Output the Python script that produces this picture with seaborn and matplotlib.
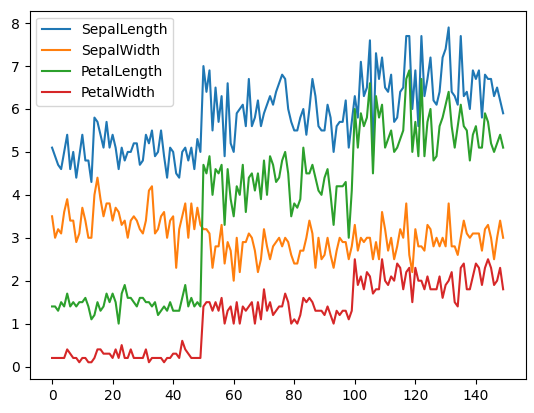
import numpy as np
import pandas as pd
import matplotlib
matplotlib.use("Agg")
import matplotlib.pyplot as plt
import seaborn as sns

sepal_length = [
    5.1,4.9,4.7,4.6,5.0,5.4,4.6,5.0,4.4,4.9,
    5.4,4.8,4.8,4.3,5.8,5.7,5.4,5.1,5.7,5.1,
    5.4,5.1,4.6,5.1,4.8,5.0,5.0,5.2,5.2,4.7,
    4.8,5.4,5.2,5.5,4.9,5.0,5.5,4.9,4.4,5.1,
    5.0,4.5,4.4,5.0,5.1,4.8,5.1,4.6,5.3,5.0,
    7.0,6.4,6.9,5.5,6.5,5.7,6.3,4.9,6.6,5.2,
    5.0,5.9,6.0,6.1,5.6,6.7,5.6,5.8,6.2,5.6,
    5.9,6.1,6.3,6.1,6.4,6.6,6.8,6.7,6.0,5.7,
    5.5,5.5,5.8,6.0,5.4,6.0,6.7,6.3,5.6,5.5,
    5.5,6.1,5.8,5.0,5.6,5.7,5.7,6.2,5.1,5.7,
    6.3,5.8,7.1,6.3,6.5,7.6,4.9,7.3,6.7,7.2,
    6.5,6.4,6.8,5.7,5.8,6.4,6.5,7.7,7.7,6.0,
    6.9,5.6,7.7,6.3,6.7,7.2,6.2,6.1,6.4,7.2,
    7.4,7.9,6.4,6.3,6.1,7.7,6.3,6.4,6.0,6.9,
    6.7,6.9,5.8,6.8,6.7,6.7,6.3,6.5,6.2,5.9,
]
sepal_width = [
    3.5,3.0,3.2,3.1,3.6,3.9,3.4,3.4,2.9,3.1,
    3.7,3.4,3.0,3.0,4.0,4.4,3.9,3.5,3.8,3.8,
    3.4,3.7,3.6,3.3,3.4,3.0,3.4,3.5,3.4,3.2,
    3.1,3.4,4.1,4.2,3.1,3.2,3.5,3.6,3.0,3.4,
    3.5,2.3,3.2,3.5,3.8,3.0,3.8,3.2,3.7,3.3,
    3.2,3.2,3.1,2.3,2.8,2.8,3.3,2.4,2.9,2.7,
    2.0,3.0,2.2,2.9,2.9,3.1,3.0,2.7,2.2,2.5,
    3.2,2.8,2.5,2.8,2.9,3.0,2.8,3.0,2.9,2.6,
    2.4,2.4,2.7,2.7,3.0,3.4,3.1,2.3,3.0,2.5,
    2.6,3.0,2.6,2.3,2.7,3.0,2.9,2.9,2.5,2.8,
    3.3,2.7,3.0,2.9,3.0,3.0,2.5,2.9,2.5,3.6,
    3.2,2.7,3.0,2.5,2.8,3.2,3.0,3.8,2.6,2.2,
    3.2,2.8,2.8,2.7,3.3,3.2,2.8,3.0,2.8,3.0,
    2.8,3.8,2.8,2.8,2.6,3.0,3.4,3.1,3.0,3.1,
    3.1,3.1,2.7,3.2,3.3,3.0,2.5,3.0,3.4,3.0,
]
petal_length = [
    1.4,1.4,1.3,1.5,1.4,1.7,1.4,1.5,1.4,1.5,
    1.5,1.6,1.4,1.1,1.2,1.5,1.3,1.4,1.7,1.5,
    1.7,1.5,1.0,1.7,1.9,1.6,1.6,1.5,1.4,1.6,
    1.6,1.5,1.5,1.4,1.5,1.2,1.3,1.4,1.3,1.5,
    1.3,1.3,1.3,1.6,1.9,1.4,1.6,1.4,1.5,1.4,
    4.7,4.5,4.9,4.0,4.6,4.5,4.7,3.3,4.6,3.9,
    3.5,4.2,4.0,4.7,3.6,4.4,4.5,4.1,4.5,3.9,
    4.8,4.0,4.9,4.7,4.3,4.4,4.8,5.0,4.5,3.5,
    3.8,3.7,3.9,5.1,4.5,4.5,4.7,4.4,4.1,4.0,
    4.4,4.6,4.0,3.3,4.2,4.2,4.2,4.3,3.0,4.1,
    6.0,5.1,5.9,5.6,5.8,6.6,4.5,6.3,5.8,6.1,
    5.1,5.3,5.5,5.0,5.1,5.3,5.5,6.7,6.9,5.0,
    5.7,4.9,6.7,4.9,5.7,6.0,4.8,4.9,5.6,5.8,
    6.1,6.4,5.6,5.1,5.6,6.1,5.6,5.5,4.8,5.4,
    5.6,5.1,5.1,5.9,5.7,5.2,5.0,5.2,5.4,5.1,
]
petal_width = [
    0.2,0.2,0.2,0.2,0.2,0.4,0.3,0.2,0.2,0.1,
    0.2,0.2,0.1,0.1,0.2,0.4,0.4,0.3,0.3,0.3,
    0.2,0.4,0.2,0.5,0.2,0.2,0.4,0.2,0.2,0.2,
    0.2,0.4,0.1,0.2,0.2,0.2,0.2,0.1,0.2,0.2,
    0.3,0.3,0.2,0.6,0.4,0.3,0.2,0.2,0.2,0.2,
    1.4,1.5,1.5,1.3,1.5,1.3,1.6,1.0,1.3,1.4,
    1.0,1.5,1.0,1.4,1.3,1.4,1.5,1.0,1.5,1.1,
    1.8,1.3,1.5,1.2,1.3,1.4,1.4,1.7,1.5,1.0,
    1.1,1.0,1.2,1.6,1.5,1.6,1.5,1.3,1.3,1.3,
    1.2,1.4,1.2,1.0,1.3,1.2,1.3,1.3,1.1,1.3,
    2.5,1.9,2.1,1.8,2.2,2.1,1.7,1.8,1.8,2.5,
    2.0,1.9,2.1,2.0,2.4,2.3,1.8,2.2,2.3,1.5,
    2.3,2.0,2.0,1.8,2.1,1.8,1.8,1.8,2.1,1.6,
    1.9,2.0,2.2,1.5,1.4,2.3,2.4,1.8,1.8,2.1,
    2.4,2.3,1.9,2.3,2.5,2.3,1.9,2.0,2.3,1.8,
]
series_names = ["SepalLength", "SepalWidth", "PetalLength", "PetalWidth"]

df = pd.DataFrame({
    "SepalLength": sepal_length,
    "SepalWidth": sepal_width,
    "PetalLength": petal_length,
    "PetalWidth": petal_width,
})

plt.rcParams['font.family'] = ['DejaVu Sans']
fig = plt.figure(figsize=(5.34, 4.13), dpi=100)
ax = fig.add_axes([29.5/534, 1-379/413, (525.7-29.5)/534, (379-10.7)/413])
colors = sns.color_palette("tab10", 4)
for name, c in zip(series_names, colors):
    sns.lineplot(x=df.index, y=df[name], ax=ax, color=c, label=name, linewidth=1.5)
ax.set_xlabel("")
ax.set_ylabel("")
ax.set_xticks([0, 20, 40, 60, 80, 100, 120, 140])
ax.legend(loc="upper left")
fig.savefig("out.png", dpi=100)
